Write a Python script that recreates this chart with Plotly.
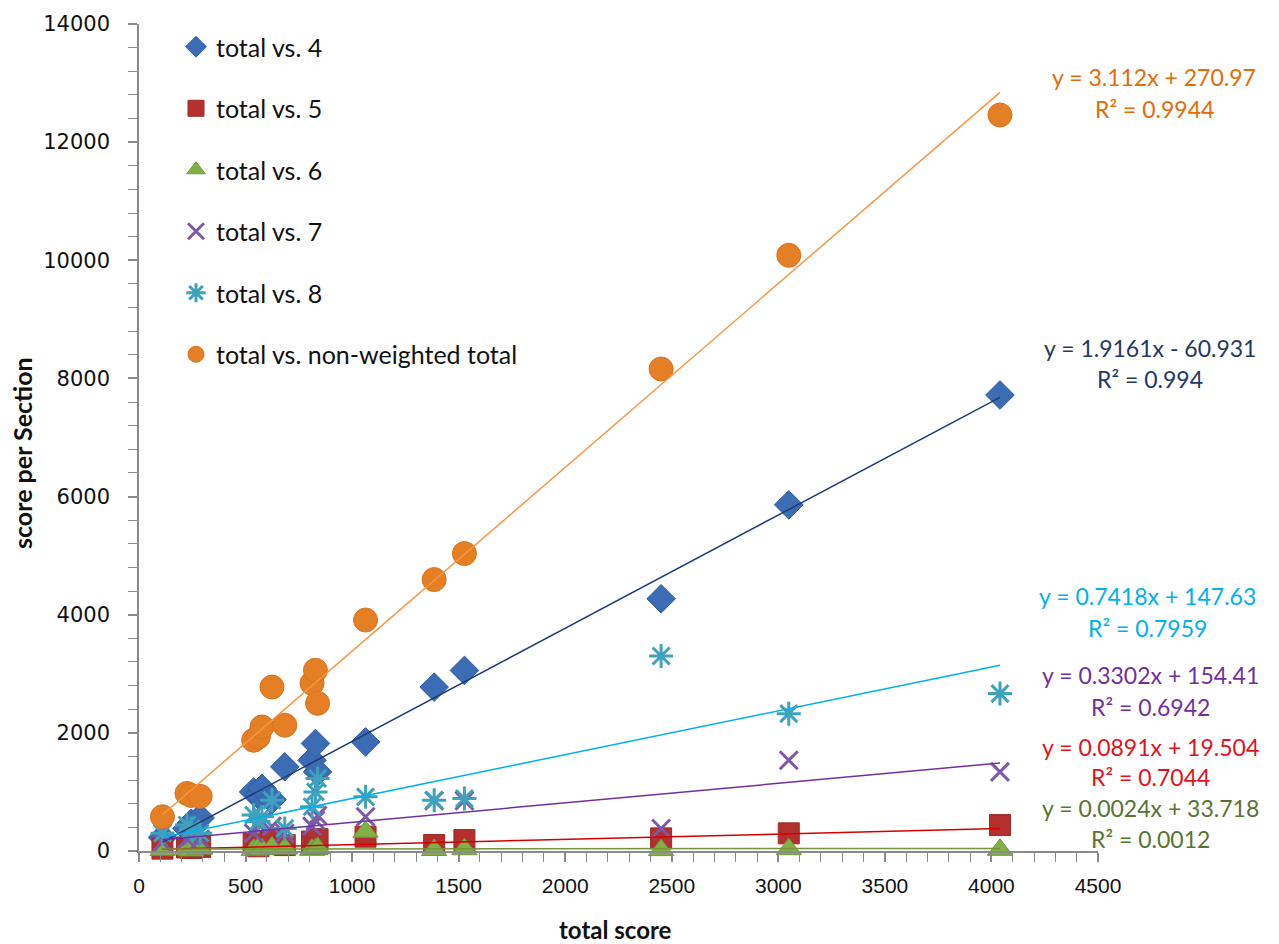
import plotly.graph_objects as go

# ---- data ----
total_score = [110, 225, 245, 287, 538, 560, 577, 624, 684, 812, 828, 838, 1063, 1385, 1527, 2450, 3049, 4040]

s4 = [230, 380, 470, 560, 1000, 950, 1060, 870, 1425, 1537, 1820, 1340, 1846, 2775, 3057, 4270, 5860, 7720]
s5 = [40, 60, 50, 70, 120, 80, 150, 180, 100, 160, 120, 200, 242, 101, 186, 214, 299, 439]
s6 = [20, 30, 10, 40, 20, 50, 30, 60, 40, 20, 30, 50, 326, 17, 30, 15, 30, 20]
s7 = [150, 200, 250, 200, 300, 450, 500, 420, 300, 420, 520, 600, 579, 850, 850, 380, 1537, 1340]
s8 = [300, 440, 380, 300, 608, 500, 580, 860, 383, 748, 1000, 1228, 917, 861, 889, 3300, 2325, 2665]
s_nw = [580, 975, 940, 925, 1875, 1930, 2100, 2775, 2130, 2840, 3060, 2500, 3910, 4595, 5035, 8160, 10085, 12460]

series_names = ["total vs. 4", "total vs. 5", "total vs. 6", "total vs. 7", "total vs. 8",
                "total vs. non-weighted total"]
series_values = [s4, s5, s6, s7, s8, s_nw]

# trendline equations as printed on the chart
slopes = [1.9161, 0.0891, 0.0024, 0.3302, 0.7418, 3.112]
intercepts = [-60.931, 19.504, 33.718, 154.41, 147.63, 270.97]
eq_texts = ["y = 1.9161x - 60.931", "y = 0.0891x + 19.504", "y = 0.0024x + 33.718",
            "y = 0.3302x + 154.41", "y = 0.7418x + 147.63", "y = 3.112x + 270.97"]
r2_texts = ["R² = 0.994", "R² = 0.7044", "R² = 0.0012",
            "R² = 0.6942", "R² = 0.7959", "R² = 0.9944"]

x_ticks = [0, 500, 1000, 1500, 2000, 2500, 3000, 3500, 4000, 4500]
x_tick_labels = ["0", "500", "1000", "1500", "2000", "2500", "3000", "3500", "4000", "4500"]
y_ticks = [0, 2000, 4000, 6000, 8000, 10000, 12000, 14000]
y_tick_labels = ["0", "2000", "4000", "6000", "8000", "10000", "12000", "14000"]

# ---- styles ----
marker_styles = [
    dict(symbol="diamond", size=22, color="#3C6DB4", line=dict(color="#2F5D9E", width=1)),
    dict(symbol="square", size=21, color="#B3302F", line=dict(color="#9E2A28", width=1)),
    dict(symbol="triangle-up", size=22, color="#80B046", line=dict(color="#6E9A3A", width=1)),
    dict(symbol="x-thin-open", size=18, color="#7B5BA8", line=dict(color="#7B5BA8", width=3)),
    dict(symbol="asterisk-open", size=20, color="#3FA2BD", line=dict(color="#3FA2BD", width=3)),
    dict(symbol="circle", size=24, color="#E57F26", line=dict(color="#D8741E", width=1)),
]
line_colors = ["#1F3B73", "#D40000", "#77933C", "#7030A0", "#00B0F0", "#F79646"]
text_colors = ["#1F3864", "#E3111B", "#5A7234", "#7030A0", "#00B0F0", "#E46C0A"]
# annotation pixel centres (eq line, R² line) for each series
ann_px = [(1150, 347, 378), (1150, 747, 777), (1150, 808, 839),
          (1150, 675, 707), (1147, 595, 627), (1154, 75, 107)]

W, H = 1279, 944
L, R, T, B = 139, 181, 22, 93
pw, ph = W - L - R, H - T - B


def px_to_paper(px, py):
    return (px - L) / pw, (H - B - py) / ph


fig = go.Figure()

for i, (name, vals) in enumerate(zip(series_names, series_values)):
    fig.add_trace(go.Scatter(
        x=total_score, y=vals, mode="markers", name=name,
        marker=marker_styles[i], legendgroup=f"g{i}", cliponaxis=False,
    ))

xmin, xmax = min(total_score), max(total_score)
for i in range(len(series_names)):
    xs = [xmin, xmax]
    ys = [slopes[i] * v + intercepts[i] for v in xs]
    fig.add_trace(go.Scatter(
        x=xs, y=ys, mode="lines", showlegend=False, hoverinfo="skip",
        line=dict(color=line_colors[i], width=1.5),
    ))

annotations = []
for i in range(len(series_names)):
    cx, y1, y2 = ann_px[i]
    for txt, yy in ((eq_texts[i], y1), (r2_texts[i], y2)):
        ax, ay = px_to_paper(cx, yy)
        annotations.append(dict(
            x=ax, y=ay, xref="paper", yref="paper", text=txt, showarrow=False,
            xanchor="center", yanchor="middle",
            font=dict(family="Lato", size=23, color=text_colors[i]),
        ))

# axis titles
tx, ty = px_to_paper(615, 930)
annotations.append(dict(x=tx, y=ty, xref="paper", yref="paper", text="<b>total score</b>",
                        showarrow=False, xanchor="center", yanchor="middle",
                        font=dict(family="Lato", size=24, color="#111")))
tx, ty = px_to_paper(22, 452)
annotations.append(dict(x=tx, y=ty, xref="paper", yref="paper", text="<b>score per Section</b>",
                        showarrow=False, xanchor="center", yanchor="middle", textangle=-90,
                        font=dict(family="Lato", size=25, color="#111")))

axis_common = dict(showgrid=False, zeroline=False, showline=True, linecolor="#8A8A8A",
                   linewidth=1.5, ticks="outside", ticklen=9, tickcolor="#8A8A8A", tickwidth=1.5)

lx, ly = px_to_paper(176, 22)
fig.update_layout(
    width=W, height=H,
    margin=dict(l=L, r=R, t=T, b=B),
    plot_bgcolor="white", paper_bgcolor="white",
    xaxis=dict(range=[0, 4500], tickvals=x_ticks, ticktext=x_tick_labels, **axis_common,
               minor=dict(dtick=100, ticks="outside", ticklen=9, tickcolor="#8A8A8A", tickwidth=1),
               tickfont=dict(family="Liberation Sans", size=21, color="#111"),
               ticklabelstandoff=6),
    yaxis=dict(range=[0, 14000], tickvals=y_ticks, ticktext=y_tick_labels, **axis_common,
               minor=dict(dtick=400, ticks="outside", ticklen=9, tickcolor="#8A8A8A", tickwidth=1),
               tickfont=dict(family="DejaVu Sans", size=21, color="#111"),
               ticklabelstandoff=14),
    legend=dict(x=lx, y=ly, xanchor="left", yanchor="top", bgcolor="rgba(0,0,0,0)",
                font=dict(family="Lato", size=25, color="#111"), tracegroupgap=26,
                itemsizing="trace"),
    annotations=annotations,
    showlegend=True,
)

fig.write_html("out.html")
